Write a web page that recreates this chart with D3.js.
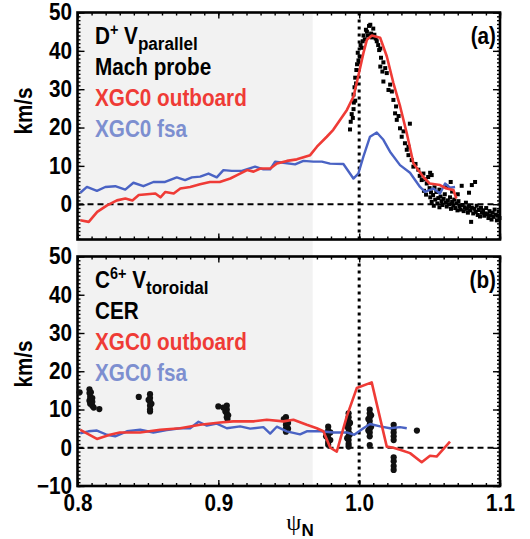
<!DOCTYPE html>
<html><head><meta charset="utf-8">
<script src="https://cdn.jsdelivr.net/npm/d3@7"></script>
<style>body{margin:0;background:#fff}svg text{font-family:"Liberation Sans",Arial,sans-serif;font-weight:bold}</style>
</head><body><svg id="c" width="530" height="539"></svg>
<script>
// ---------- data ----------
const xTicks = [0.8, 0.9, 1.0, 1.1];
const xTickLabels = ["0.8", "0.9", "1.0", "1.1"];
const yTicksTop = [0, 10, 20, 30, 40, 50];
const yTicksBottom = [-10, 0, 10, 20, 30, 40, 50];
const shadeEnd = 0.967;

// (a) D+ V_parallel
const topRed = [[0.802,-4.2],[0.808,-4.6],[0.814,-2.0],[0.821,-0.3],[0.828,1.0],[0.834,1.5],[0.839,1.0],[0.8435,2.4],[0.8494,2.6],[0.8553,2.8],[0.8589,1.8],[0.8624,3.2],[0.8683,2.8],[0.873,4.1],[0.880,4.5],[0.887,5.2],[0.894,5.8],[0.901,5.8],[0.9085,6.7],[0.9133,7.6],[0.9204,8.9],[0.925,8.5],[0.9298,9.3],[0.9369,9.3],[0.9416,10.6],[0.9487,11.3],[0.9558,11.7],[0.9652,12.8],[0.970,15.0],[0.977,17.6],[0.9816,19.4],[0.9913,24.6],[0.996,28.1],[0.9993,33.3],[1.003,39.4],[1.0055,42.9],[1.009,44.0],[1.0149,43.4],[1.0196,38.6],[1.0243,31.6],[1.0291,25.5],[1.0338,18.5],[1.0385,10.7],[1.0456,7.1],[1.050,5.4],[1.0574,5.0],[1.062,4.1],[1.0669,3.7],[1.069,1.5]];
const topBlue = [[0.802,3.0],[0.8067,4.5],[0.8138,3.5],[0.8197,4.5],[0.8268,4.7],[0.8339,3.8],[0.8397,5.6],[0.8468,4.7],[0.8539,5.8],[0.8622,5.8],[0.8705,7.0],[0.8764,6.3],[0.8812,7.0],[0.8871,7.2],[0.893,8.0],[0.8989,7.0],[0.9036,8.9],[0.9096,8.7],[0.9167,8.7],[0.9261,9.8],[0.932,9.1],[0.9368,9.1],[0.9403,11.1],[0.9462,10.8],[0.9545,10.4],[0.9604,11.3],[0.9675,11.1],[0.9735,11.1],[0.9793,10.6],[0.9888,10.5],[0.9959,6.7],[0.9994,8.0],[1.003,12.4],[1.0077,17.6],[1.0125,18.7],[1.0172,16.8],[1.0219,13.7],[1.029,10.2],[1.0361,8.2],[1.0432,4.5],[1.0468,3.2],[1.0527,4.1],[1.0574,2.8],[1.061,5.4],[1.0645,4.3],[1.0681,4.5]];
const topProbe = [[0.9935,19.5],[0.9940,21.5],[0.9947,23.5],[0.9955,22.5],[0.9960,24.8],[0.9962,26.5],[0.9960,28.6],[0.9972,27],[0.9967,30.5],[0.9972,33],[0.9978,31.5],[0.9980,35],[0.9985,36.5],[0.9995,37.5],[0.9990,39.5],[1.0005,38.5],[1.0010,41.5],[1.0018,40.8],[1.0025,42.5],[1.0031,44],[1.0040,43],[1.0048,45.5],[1.0055,45],[1.0062,44],[1.0070,46.5],[1.0079,46.8],[1.0085,44.5],[1.0092,43.5],[1.0100,45.8],[1.0108,44.2],[1.0118,43.2],[1.0125,42.5],[1.0135,41.5],[1.0142,40.2],[1.0150,40.6],[1.0155,38.2],[1.0150,35.9],[1.0165,34.6],[1.0172,37],[1.0172,32],[1.0185,35.5],[1.0196,34.2],[1.0208,29.8],[1.0220,31.2],[1.0232,29.4],[1.0243,27.2],[1.0255,23.7],[1.0262,25.5],[1.0267,22],[1.0280,23],[1.0290,19.8],[1.0302,17.6],[1.0315,19],[1.0325,15.9],[1.0338,14.2],[1.0350,15],[1.0350,12.8],[1.0360,21],[1.0373,11.5],[1.0385,9.8],[1.0400,10.5],[1.0420,9],[1.0430,7.4],[1.0444,6.3],[1.0456,8],[1.0470,6.5],[1.0480,5.4],[1.0490,7.1],[1.0515,7.6],[1.0504,8.2],[1.0500,4.2],[1.0510,3.1],[1.0460,3.5],[1.0475,2.5],[1.0535,4.4],[1.0570,3.8],[1.0620,4.6],[1.0660,3.3],[1.0700,2.6],[1.0650,5.8],[1.0780,3.0],[1.0800,5.0],[1.0505,1.8],[1.0515,0.6],[1.0525,2.4],[1.0530,-0.4],[1.0540,1.2],[1.0548,3.2],[1.0555,0.2],[1.0562,1.6],[1.0570,-0.8],[1.0578,2.0],[1.0585,0.8],[1.0592,-0.2],[1.0600,1.4],[1.0608,2.6],[1.0615,0.4],[1.0622,-0.6],[1.0630,1.0],[1.0638,0.0],[1.0645,1.8],[1.0652,-1.2],[1.0660,0.6],[1.0668,-0.3],[1.0675,1.2],[1.0682,-1.0],[1.0690,0.2],[1.0698,-1.6],[1.0705,0.8],[1.0712,-0.5],[1.0720,-1.4],[1.0728,4.8],[1.0735,-0.2],[1.0742,-1.8],[1.0750,-0.8],[1.0758,0.4],[1.0765,-1.2],[1.0772,-2.2],[1.0780,-0.6],[1.0788,-1.6],[1.0795,-4.6],[1.0800,-0.9],[1.0810,-2.4],[1.0818,-1.2],[1.0823,5.8],[1.0828,-2.0],[1.0835,-0.4],[1.0842,-2.8],[1.0850,-1.5],[1.0858,-3.2],[1.0865,-0.9],[1.0872,-2.2],[1.0880,-1.6],[1.0888,-3.0],[1.0895,-2.4],[1.0902,-1.0],[1.0910,-2.6],[1.0918,-3.6],[1.0925,-1.8],[1.0932,-2.9],[1.0940,-4.0],[1.0948,-2.2],[1.0955,-3.3],[1.0962,-1.4],[1.0970,-2.7],[1.0978,-4.2],[1.0985,-3.0],[1.0992,-1.9],[1.0996,-3.6]];

// (b) C6+ V_toroidal
const botRed = [[0.802,4.7],[0.8138,2.3],[0.823,3.4],[0.830,4.0],[0.8445,4.0],[0.8587,4.7],[0.8729,5.1],[0.887,6.0],[0.9012,6.6],[0.9105,6.9],[0.9249,6.9],[0.9344,7.3],[0.9462,6.9],[0.9533,7.3],[0.9628,6.0],[0.9699,5.1],[0.9746,4.3],[0.9795,0.0],[0.9841,-1.0],[0.9912,8.2],[0.9983,15.6],[1.0089,17.1],[1.0196,0.3],[1.0243,0.0],[1.029,-0.5],[1.0361,-1.4],[1.0444,-3.8],[1.0503,-2.1],[1.055,-2.3],[1.0645,1.6]];
const botBlue = [[0.802,3.8],[0.8078,4.3],[0.8138,4.5],[0.8209,3.4],[0.8268,3.0],[0.8351,4.3],[0.8445,4.7],[0.8539,4.0],[0.8634,4.6],[0.8729,5.1],[0.880,5.1],[0.8859,6.8],[0.8918,5.8],[0.8989,6.3],[0.906,5.1],[0.9155,5.6],[0.9226,5.0],[0.932,5.4],[0.9368,3.7],[0.9415,5.5],[0.9486,4.3],[0.958,3.5],[0.9628,4.3],[0.9723,4.3],[0.9817,4.0],[0.9912,4.0],[0.9965,3.4],[1.003,5.1],[1.0077,6.2],[1.0149,5.6],[1.0219,5.1],[1.029,5.4],[1.0338,5.1]];
const botCER = [[0.8085,15.3],[0.8085,14.3],[0.809,13.3],[0.8085,12.3],[0.809,11.5],[0.8105,11],[0.8105,12],[0.8105,13],[0.8095,14.5],[0.8115,10.5],[0.8155,10.1],[0.8015,14.5],
 [0.8515,14],[0.8515,13],[0.8515,12],[0.8515,11],[0.8515,10],[0.8515,9.5],[0.8505,12.5],[0.8525,11.5],[0.8435,13.3],
 [0.906,11],[0.906,10],[0.906,9],[0.906,8],[0.9065,7.5],[0.905,9.5],[0.907,8.5],[0.900,10.8],[0.9035,10.5],
 [0.948,8],[0.948,7],[0.948,6],[0.948,5],[0.948,4.2],[0.9495,6.5],[0.9465,7.5],[0.9495,5],
 [0.978,5.5],[0.978,4.5],[0.978,3.5],[0.978,2.5],[0.978,1.5],[0.978,0.8],[0.9795,4],[0.9795,2],[0.9765,3],
 [0.9925,9],[0.9925,8],[0.9925,7],[0.9925,6],[0.9925,5],[0.9925,4],[0.9925,3],[0.9925,2],[0.9925,1],[0.9925,0.3],[0.9915,5.5],[0.9935,3.5],[0.9915,2.5],[0.9935,6.5],
 [1.0075,10],[1.0075,9],[1.0075,8],[1.0075,7],[1.0075,6],[1.0075,5],[1.0075,4],[1.0075,3],[1.0065,7.5],[1.0085,5.5],[1.0065,4.5],[1.0085,8.5],[1.0075,0.7],
 [1.0245,6],[1.0245,5],[1.0245,4],[1.0245,3],[1.0245,2],[1.0245,-2.5],[1.0245,-3.5],[1.0245,-4.8],[1.0245,-5.8],
 [1.041,4.5]];

// ---------- drawing ----------
const RED = "#ef3b36", BLUE = "#4a63c4", BLUETXT = "#7d8fd0";
const FS = 23, SX = 0.9;
const svg = d3.select("#c");
const x = d3.scaleLinear().domain([0.8, 1.1]).range([77.5, 500]);
const panels = [
  {y: d3.scaleLinear().domain([-9.2, 50]).range([239.5, 12.5]), ticks: yTicksTop, red: topRed, blue: topBlue, pts: topProbe, sq: true, xlabels: false, tag: "(a)", kmy: 111},
  {y: d3.scaleLinear().domain([-10, 50]).range([486, 256.5]), ticks: yTicksBottom, red: botRed, blue: botBlue, pts: botCER, sq: false, xlabels: true, tag: "(b)", kmy: 364}
];

function label(px, py, opts = {}) {
  const t = svg.append("text").attr("transform", `translate(${px},${py}) scale(${SX},1)`)
    .attr("font-size", opts.size || FS).attr("fill", opts.fill || "#000");
  if (opts.anchor) t.attr("text-anchor", opts.anchor);
  return t;
}

// shaded region spanning both panels
svg.append("rect").attr("x", x(0.8)).attr("y", panels[0].y.range()[1])
  .attr("width", x(shadeEnd) - x(0.8)).attr("height", panels[1].y.range()[0] - panels[0].y.range()[1])
  .attr("fill", "#f2f2f2");

const minorX = d3.range(80, 111).map(d => d / 100);

panels.forEach((p, i) => {
  const y = p.y;
  const [yb, yt] = y.range();
  const [d0, d1] = y.domain();
  const g = svg.append("g");
  const minorY = d3.range(Math.ceil(d0), d1 + 0.01, 1);

  const styleAxis = sel => {
    sel.select(".domain").remove();
    sel.selectAll("line").attr("stroke", "#000").attr("stroke-width", 1.4);
    sel.selectAll("text").attr("font-size", FS).attr("fill", "#000")
      .attr("font-family", "Liberation Sans, Arial, sans-serif").attr("font-weight", "bold")
      .attr("transform", `scale(${SX},1)`);
  };
  // left
  g.append("g").attr("transform", `translate(${x(0.8)},0)`)
    .call(d3.axisLeft(y).tickValues(minorY).tickSize(-3).tickFormat("")).call(styleAxis);
  g.append("g").attr("transform", `translate(${x(0.8)},0)`)
    .call(d3.axisLeft(y).tickValues(p.ticks).tickSize(-7).tickPadding(6).tickFormat(d3.format("d"))).call(styleAxis);
  // right
  g.append("g").attr("transform", `translate(${x(1.1)},0)`)
    .call(d3.axisRight(y).tickValues(minorY).tickSize(-3).tickFormat("")).call(styleAxis);
  g.append("g").attr("transform", `translate(${x(1.1)},0)`)
    .call(d3.axisRight(y).tickValues(p.ticks).tickSize(-7).tickFormat("")).call(styleAxis);
  // top
  g.append("g").attr("transform", `translate(0,${yt})`)
    .call(d3.axisTop(x).tickValues(minorX).tickSize(-3).tickFormat("")).call(styleAxis);
  g.append("g").attr("transform", `translate(0,${yt})`)
    .call(d3.axisTop(x).tickValues(xTicks).tickSize(-6).tickFormat("")).call(styleAxis);
  // bottom
  g.append("g").attr("transform", `translate(0,${yb})`)
    .call(d3.axisBottom(x).tickValues(minorX).tickSize(-3).tickFormat("")).call(styleAxis);
  g.append("g").attr("transform", `translate(0,${yb})`)
    .call(d3.axisBottom(x).tickValues(xTicks).tickSize(-6).tickPadding(9)
      .tickFormat((d, k) => p.xlabels ? xTickLabels[k] : "")).call(styleAxis);

  // frame
  g.append("rect").attr("x", x(0.8)).attr("y", yt).attr("width", x(1.1) - x(0.8)).attr("height", yb - yt)
    .attr("fill", "none").attr("stroke", "#000").attr("stroke-width", 2.6);

  // reference lines
  g.append("line").attr("x1", x(0.8)).attr("x2", x(1.1)).attr("y1", y(0)).attr("y2", y(0))
    .attr("stroke", "#000").attr("stroke-width", 2).attr("stroke-dasharray", "6,4");
  g.append("line").attr("x1", x(1.0)).attr("x2", x(1.0)).attr("y1", yt).attr("y2", yb)
    .attr("stroke", "#000").attr("stroke-width", 3).attr("stroke-dasharray", "3,4");

  const line = d3.line().x(d => x(d[0])).y(d => y(d[1]));
  // measurement points
  if (p.sq) {
    g.selectAll("rect.pt").data(p.pts).join("rect").attr("class", "pt")
      .attr("x", d => x(d[0]) - 2).attr("y", d => y(d[1]) - 2).attr("width", 4).attr("height", 4).attr("fill", "#000");
  } else {
    g.selectAll("circle.pt").data(p.pts).join("circle").attr("class", "pt")
      .attr("cx", d => x(d[0])).attr("cy", d => y(d[1])).attr("r", 3.1).attr("fill", "#111");
  }
  g.append("path").datum(p.blue).attr("d", line).attr("fill", "none").attr("stroke", BLUE).attr("stroke-width", 2.4).attr("stroke-linejoin", "round");
  g.append("path").datum(p.red).attr("d", line).attr("fill", "none").attr("stroke", RED).attr("stroke-width", 2.6).attr("stroke-linejoin", "round");

  // y label
  svg.append("text").attr("transform", `translate(32,${p.kmy}) rotate(-90) scale(${SX},1)`)
    .attr("text-anchor", "middle").attr("font-size", FS).text("km/s");
  // panel tag
  label(496, yt + 31, {anchor: "end"}).text(p.tag);

  // legend text
  const lx = 95;
  const t1 = label(lx, yt + 31.5);
  if (i === 0) {
    t1.append("tspan").text("D");
    t1.append("tspan").attr("dy", -9).attr("font-size", 16).text("+");
    t1.append("tspan").attr("dy", 9).text(" V");
    t1.append("tspan").attr("dy", 6).attr("font-size", 19).text("parallel");
  } else {
    t1.append("tspan").text("C");
    t1.append("tspan").attr("dy", -9).attr("font-size", 16).text("6+");
    t1.append("tspan").attr("dy", 9).text(" V");
    t1.append("tspan").attr("dy", 6).attr("font-size", 19).text("toroidal");
  }
  label(lx, yt + 62).text(i === 0 ? "Mach probe" : "CER");
  label(lx, yt + 93, {fill: RED}).text("XGC0 outboard");
  label(lx, yt + 124.5, {fill: BLUETXT}).text("XGC0 fsa");
});

// x label
const xl = svg.append("text").attr("x", 300).attr("y", 530).attr("text-anchor", "middle");
xl.append("tspan").attr("font-family", "Liberation Serif, Times New Roman, serif").attr("font-weight", "normal").attr("font-size", 24).text("ψ");
xl.append("tspan").attr("font-size", 17).attr("dy", 6).text("N");
</script></body></html>
